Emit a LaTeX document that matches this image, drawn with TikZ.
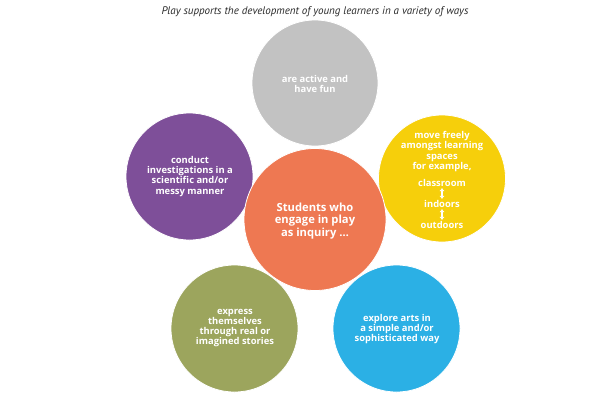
\documentclass[tikz,border=0pt]{standalone}
\usepackage{fontspec}
\usetikzlibrary{arrows.meta}
\setmainfont{PT Sans}
\newfontfamily\bubfont{Open Sans}
\definecolor{cgray}{HTML}{C2C2C2}
\definecolor{cpurple}{HTML}{7E4F99}
\definecolor{corange}{HTML}{EE7852}
\definecolor{cyellow}{HTML}{F6CF0B}
\definecolor{colive}{HTML}{9CA55D}
\definecolor{cblue}{HTML}{2BB0E5}
\definecolor{ctitle}{HTML}{2A2A2A}
\begin{document}
\begin{tikzpicture}[x=1pt,y=-1pt,
  bubble/.style={circle,draw=white,line width=0.8pt,inner sep=0pt,minimum size=#1},
  txt/.style={text=white,font=\bubfont\bfseries\fontsize{9.4}{10.1}\selectfont,align=center},
  bigtxt/.style={text=white,font=\bubfont\bfseries\fontsize{11.2}{12.6}\selectfont,align=center},
  swap/.style={white,line width=1.8pt,shorten <=1.2pt,shorten >=1.2pt,{Latex[length=3pt,width=5pt]}-{Latex[length=3pt,width=5pt]}}]
\useasboundingbox (0,0) rectangle (612,408);
\node[font=\itshape\fontsize{11}{12}\selectfont,text=ctitle] (title) at (315,12) {Play supports the development of young learners in a variety of ways};
\node[bubble=126pt,fill=cgray] (gray) at (315,83) {};
\node[bubble=127pt,fill=cpurple] (purple) at (189.5,176.5) {};
\node[bubble=127pt,fill=cyellow] (yellow) at (442,178.5) {};
\node[bubble=127pt,fill=colive] (olive) at (234.5,328.5) {};
\node[bubble=127pt,fill=cblue] (blue) at (396.5,328.5) {};
\node[bubble=142pt,fill=corange] (orange) at (315,219.5) {};
\node[txt] (tgray) at (315,84) {are active and\\have fun};
\node[txt] (tpurple) at (190,176.5) {conduct\\investigations in a\\scientific and/or\\messy manner};
\node[bigtxt] (torange) at (315,221) {Students who\\engage in play\\as inquiry \dots};
\node[txt] (tyellow) at (442,151.5) {move freely\\amongst learning\\spaces\\for example,};
\node[txt,inner sep=0pt] (tclass) at (442,183) {classroom};
\node[txt,inner sep=0pt] (tin) at (442,204) {indoors};
\node[txt,inner sep=0pt] (tout) at (442,225) {outdoors};
\draw[swap] (tclass.south) -- (tin.north);
\draw[swap] (tin.south) -- (tout.north);
\node[txt] (tolive) at (235,328) {express\\themselves\\through real or\\imagined stories};
\node[txt] (tblue) at (397,329) {explore arts in\\a simple and/or\\sophisticated way};
\end{tikzpicture}
\end{document}
